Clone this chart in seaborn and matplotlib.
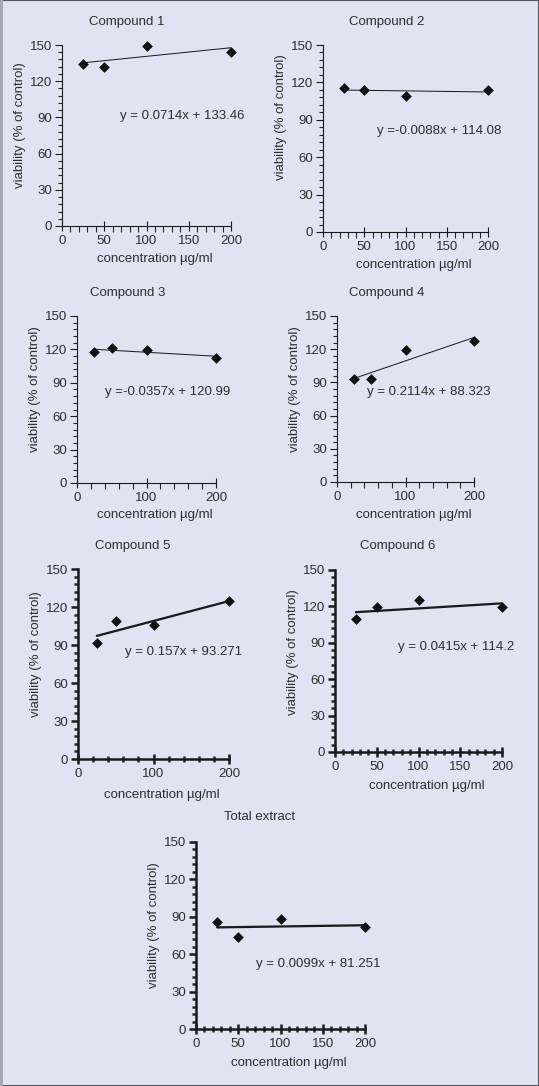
import numpy as np
import pandas as pd
import seaborn as sns
import matplotlib.pyplot as plt
from matplotlib.ticker import MultipleLocator
from matplotlib.patches import Rectangle

sns.set_style('ticks')
plt.rcParams['font.family'] = ['Liberation Sans', 'DejaVu Sans']

# data
titles = ['Compound 1', 'Compound 2', 'Compound 3', 'Compound 4',
          'Compound 5', 'Compound 6', 'Total extract']
conc = [25, 50, 100, 200]
viability = [
    [134, 132, 149, 144.6],
    [115.7, 114, 108.8, 113.6],
    [117.4, 121, 119.5, 112.6],
    [92.7, 93, 119.4, 127.2],
    [91.6, 109, 105.5, 124.7],
    [109.5, 119.5, 125.5, 119.7],
    [85.8, 73.5, 88.5, 82],
]
slopes = [0.0714, -0.0088, -0.0357, 0.2114, 0.157, 0.0415, 0.0099]
intercepts = [133.46, 114.08, 120.99, 88.323, 93.271, 114.2, 81.251]
equations = ['y = 0.0714x + 133.46', 'y =-0.0088x + 114.08', 'y =-0.0357x + 120.99',
             'y = 0.2114x + 88.323', 'y = 0.157x + 93.271', 'y = 0.0415x + 114.2',
             'y = 0.0099x + 81.251']
eq_pos = [(69, 91), (65, 81), (40, 82), (44, 81), (62, 84.5), (75, 86.5), (71, 52)]

# pixel boxes: left, right, top, bottom
boxes = [(62, 231, 45, 226), (323, 488, 45, 232),
         (77, 216, 316, 483), (337, 474, 316, 482),
         (78, 229, 569, 759), (335, 502, 570, 752),
         (196, 365, 842, 1029)]
title_xy = [(127, 22), (387, 22), (128, 293), (387, 293), (133, 546), (398, 546), (260, 817)]
xlab_off = [33, 33, 32, 33, 36, 34, 34]
ylab_y = [125, 117, 389, 389, 654, 652, 925]
x_major = [50, 50, 100, 100, 100, 50, 50]
x_minor = [10, 10, 20, 20, 20, 10, 10]
thick = [False, False, False, False, True, True, True]

W, H = 539, 1086
fig = plt.figure(figsize=(W / 100, H / 100), dpi=100)
fig.patch.set_facecolor('#e0e4f2')
fig.patches.append(Rectangle((0, 0), 1, 1, transform=fig.transFigure, fill=False,
                             edgecolor='#555560', linewidth=1.5))
fig.patches.append(Rectangle((0, 0), 0.005, 1, transform=fig.transFigure,
                             facecolor='#a8a8b8', edgecolor='none'))

txt = '#2e2e2e'
fs = 9.5
for i in range(7):
    l, r, t, b = boxes[i]
    w, h = r - l, b - t
    ax = fig.add_axes([l / W, 1 - b / H, w / W, h / H])
    ax.set_facecolor('none')
    lw = 1.8 if thick[i] else 0.8
    df = pd.DataFrame({'x': conc, 'y': viability[i]})
    xs = np.array([conc[0], conc[-1]])
    line = pd.DataFrame({'x': xs, 'y': slopes[i] * xs + intercepts[i]})
    sns.lineplot(data=line, x='x', y='y', ax=ax, color='#1a1a1a', lw=lw * 0.9)
    sns.scatterplot(data=df, x='x', y='y', ax=ax, marker='D', s=30, color='#111111',
                    edgecolor='#111111', linewidth=0, clip_on=False, zorder=3)
    ax.set_xlim(0, 200)
    ax.set_ylim(0, 150)
    for s in ['top', 'right']:
        ax.spines[s].set_visible(False)
    for s in ['left', 'bottom']:
        ax.spines[s].set_linewidth(lw)
        ax.spines[s].set_color('#1a1a1a')
    ax.xaxis.set_major_locator(MultipleLocator(x_major[i]))
    ax.xaxis.set_minor_locator(MultipleLocator(x_minor[i]))
    ax.yaxis.set_major_locator(MultipleLocator(30))
    ax.yaxis.set_minor_locator(MultipleLocator(6))
    ax.tick_params(axis='x', which='major', direction='inout', length=7, width=lw,
                   labelsize=fs, colors='#1a1a1a', labelcolor=txt, pad=3)
    ax.tick_params(axis='x', which='minor', direction='inout' if thick[i] else 'out',
                   length=4, width=lw)
    ax.tick_params(axis='y', which='major', direction='out', length=5, width=lw,
                   labelsize=fs, colors='#1a1a1a', labelcolor=txt, pad=2)
    ax.tick_params(axis='y', which='minor', direction='out', length=3, width=lw)
    ax.set_xlabel('concentration µg/ml', fontsize=fs, color=txt, va='center')
    ax.set_ylabel('viability (% of control)', fontsize=fs, color=txt, va='center')
    ax.xaxis.set_label_coords(0.5 + 8 / w, -xlab_off[i] / h)
    ax.yaxis.set_label_coords(-42 / w, (b - ylab_y[i]) / h)
    ax.text(eq_pos[i][0], eq_pos[i][1], equations[i], fontsize=fs, color=txt,
            ha='left', va='center')
    fig.text(title_xy[i][0] / W, 1 - title_xy[i][1] / H, titles[i], fontsize=fs,
             color=txt, ha='center', va='center')

fig.savefig('out.png', dpi=100, facecolor=fig.get_facecolor())
